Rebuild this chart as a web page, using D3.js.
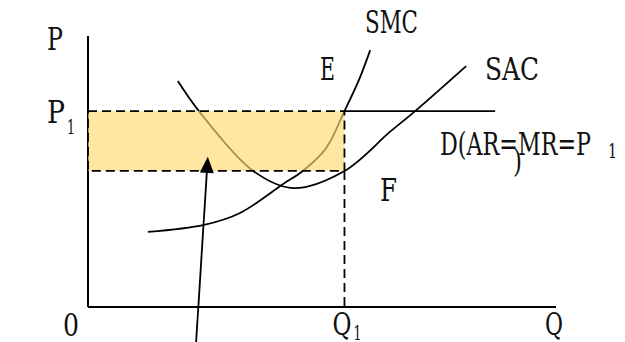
<!DOCTYPE html>
<html>
<meta charset="utf-8">
<script src="https://d3js.org/d3.v7.min.js"></script>
<head>
<style>
body { margin: 0; background: #fff; }
</style>
</head>
<body>
<div id="chart"></div>
<script>

// short-run cost curves of a competitive firm
var sacQ = [19.2, 23.7, 35.3, 43.8, 54.8, 64.5, 69.9, 80.8];
var sacP = [83.4, 72.3, 50.2, 43.9, 50.2, 64.6, 72.3, 88.9];

var smcQ = [12.8, 24.8, 32.5, 41.7, 45.9, 50.9, 54.8, 57.9, 60.3];
var smcP = [27.7, 30.3, 34.7, 45.4, 50.2, 58.7, 72.3, 83.8, 94.8];

var P1 = 72.3      // price = AR = MR
var Q1 = 54.8      // output where P = SMC
var AC1 = 50.2     // SAC at Q1 (point F)
var demandEnd = 87.0

// arrow pointing at the shaded area
var arrowQ = [23.1, 25.6];
var arrowP = [-12.9, 55.4];

var width = 625
    height = 342

var svg = d3.select("#chart")
  .append("svg")
    .attr("width", width)
    .attr("height", height)

var x = d3.scaleLinear().domain([0, 100]).range([88, 556])
var y = d3.scaleLinear().domain([0, 100]).range([307, 36])

var line = d3.line()
  .x(function(d){ return x(d[0]) })
  .y(function(d){ return y(d[1]) })
  .curve(d3.curveCatmullRom.alpha(0.5))

var sac = d3.zip(sacQ, sacP)
var smc = d3.zip(smcQ, smcP)

// axes
svg.append("line")
  .attr("x1", x(0)).attr("y1", y(0))
  .attr("x2", x(0)).attr("y2", y(100))
  .attr("stroke", "black").attr("stroke-width", 2)
svg.append("line")
  .attr("x1", x(0)).attr("y1", y(0))
  .attr("x2", x(100)).attr("y2", y(0))
  .attr("stroke", "black").attr("stroke-width", 2)

// curves
svg.selectAll("curves")
  .data([sac, smc])
  .enter()
  .append("path")
    .attr("d", line)
    .attr("fill", "none")
    .attr("stroke", "black")
    .attr("stroke-width", 1.8)

// demand line D (AR = MR = P1)
svg.append("line")
  .attr("x1", x(Q1)).attr("y1", y(P1))
  .attr("x2", x(demandEnd)).attr("y2", y(P1))
  .attr("stroke", "black").attr("stroke-width", 1.8)

// shaded profit rectangle (drawn over the curves)
svg.append("rect")
  .attr("x", x(0))
  .attr("y", y(P1))
  .attr("width", x(Q1) - x(0))
  .attr("height", y(AC1) - y(P1))
  .attr("fill", "#ffd96e")
  .style("opacity", 0.65)
svg.append("rect")
  .attr("x", x(0))
  .attr("y", y(P1))
  .attr("width", x(Q1) - x(0))
  .attr("height", y(AC1) - y(P1))
  .attr("fill", "none")
  .attr("stroke", "black")
  .attr("stroke-width", 1.8)
  .attr("stroke-dasharray", "9,5")

// dashed line down to Q1
svg.append("line")
  .attr("x1", x(Q1)).attr("y1", y(AC1))
  .attr("x2", x(Q1)).attr("y2", y(0))
  .attr("stroke", "black").attr("stroke-width", 1.8)
  .attr("stroke-dasharray", "9,5")

// arrow
var ax0 = [x(arrowQ[0]), y(arrowP[0])]
var ax1 = [x(arrowQ[1]), y(arrowP[1])]
var ang = Math.atan2(ax1[1] - ax0[1], ax1[0] - ax0[0])
svg.append("line")
  .attr("x1", ax0[0]).attr("y1", ax0[1])
  .attr("x2", ax1[0] - 14 * Math.cos(ang)).attr("y2", ax1[1] - 14 * Math.sin(ang))
  .attr("stroke", "black").attr("stroke-width", 1.8)
svg.append("path")
  .attr("d", "M0,0 L-7,16 L7,16 Z")
  .attr("transform", "translate(" + ax1[0] + "," + ax1[1] + ") rotate(" + (ang * 180 / Math.PI + 90) + ")")
  .attr("fill", "black")

// labels: text, x, baseline, width, size
function label(t, lx, ly, w, size) {
  svg.append("text")
    .attr("x", lx).attr("y", ly)
    .attr("textLength", w)
    .attr("lengthAdjust", "spacingAndGlyphs")
    .attr("font-family", "'DejaVu Serif', 'Liberation Serif', serif")
    .attr("font-size", size)
    .attr("fill", "#111")
    .text(t)
}

label("P", 47, 50, 16, 31)
label("P", 47, 123, 18, 31)
label("1", 67, 134, 8, 20)
label("0", 63, 336, 16, 31)
label("Q", x(Q1) - 12, 335, 19, 31)
label("1", x(Q1) + 9, 340, 8, 20)
label("Q", 545, 335, 18, 31)
label("SMC", 365, 33, 53, 31)
label("E", 320, 80, 15, 31)
label("SAC", 485, 80, 54, 31)
label("F", 380, 201, 17, 31)
label("D(AR=MR=P", 440, 155, 151, 31)
label("1", 608, 158, 9, 20)
label(")", 513, 172, 9, 31)

</script>
</body>
</html>
